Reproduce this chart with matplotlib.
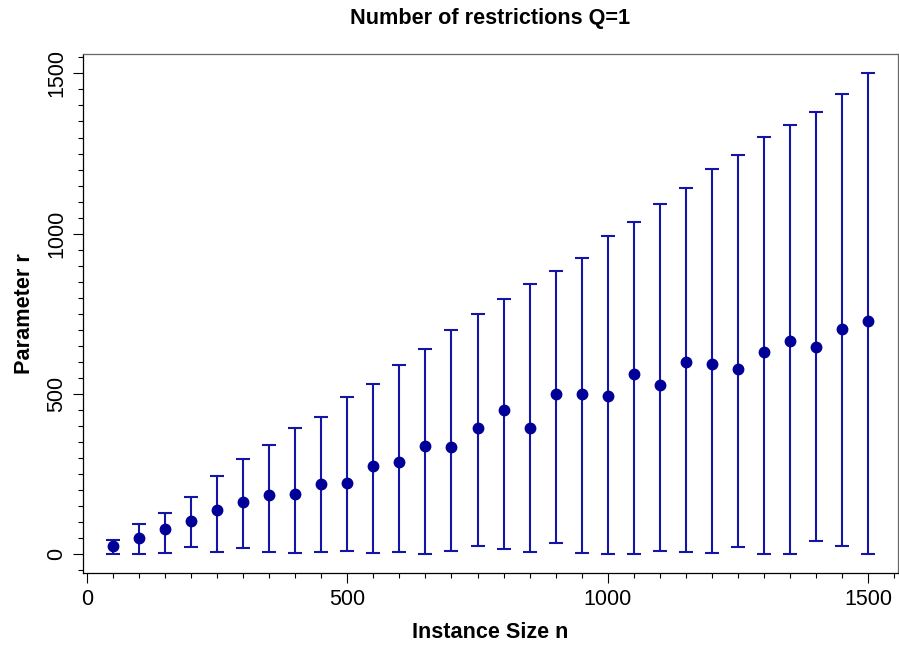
import numpy as np
import matplotlib
matplotlib.use("Agg")
import matplotlib.pyplot as plt
from matplotlib.ticker import MultipleLocator

plt.rcParams['font.family'] = ['Liberation Sans', 'DejaVu Sans']

# instance sizes and the read-off mean / min / max of parameter r
sizes = np.arange(50, 1501, 50)
mean_r = [25, 50, 80, 103, 138, 164, 185, 189, 218, 222,
          276, 287, 338, 335, 394, 450, 394, 501, 499, 494,
          562, 527, 599, 594, 577, 632, 664, 645, 702, 729]
upper_r = [43, 95, 128, 178, 243, 296, 341, 395, 429, 491,
           532, 591, 640, 700, 750, 796, 842, 883, 924, 994,
           1037, 1091, 1141, 1201, 1245, 1301, 1340, 1381, 1436, 1501]
lower_r = [1, 1, 3, 23, 6, 20, 8, 4, 8, 9,
           3, 7, 1, 10, 26, 15, 8, 36, 4, 1,
           1, 9, 8, 4, 23, 1, 1, 42, 26, 1]

mean_r = np.array(mean_r)
yerr = [mean_r - np.array(lower_r), np.array(upper_r) - mean_r]

fig = plt.figure(figsize=(8.99, 6.48), dpi=100)
ax = fig.add_axes([0.092, 0.1151, 0.9073, 0.8013])

ax.errorbar(sizes, mean_r, yerr=yerr, fmt='none', ecolor='#1414a6',
            elinewidth=1.5, capsize=4.7, capthick=1.5, zorder=2)
ax.plot(sizes, mean_r, 'o', color='#000099', markersize=7.5, zorder=3)

ax.set_xlim(-8, 1558)
ax.set_ylim(-60, 1560)

ax.xaxis.set_major_locator(MultipleLocator(500))
ax.xaxis.set_minor_locator(MultipleLocator(50))
ax.yaxis.set_major_locator(MultipleLocator(500))
ax.yaxis.set_minor_locator(MultipleLocator(50))

ax.tick_params(which='major', length=7, width=0.8, direction='out',
               labelsize=15.5, pad=4, color='black')
ax.tick_params(which='minor', length=3.6, width=0.8, direction='out', color='black')
for lab in ax.get_yticklabels():
    lab.set_rotation(90)
    lab.set_va('center')

for s in ['left', 'bottom']:
    ax.spines[s].set_color('black')
    ax.spines[s].set_linewidth(0.9)
for s in ['top', 'right']:
    ax.spines[s].set_color('#666666')
    ax.spines[s].set_linewidth(0.9)

ax.set_title('Number of restrictions Q=1', fontsize=15.6, fontweight='bold', pad=22)
ax.set_xlabel('Instance Size n', fontsize=15.6, fontweight='bold', labelpad=9)
ax.set_ylabel('Parameter r', fontsize=15.6, fontweight='bold', labelpad=8)

fig.savefig('out.png', dpi=100)
